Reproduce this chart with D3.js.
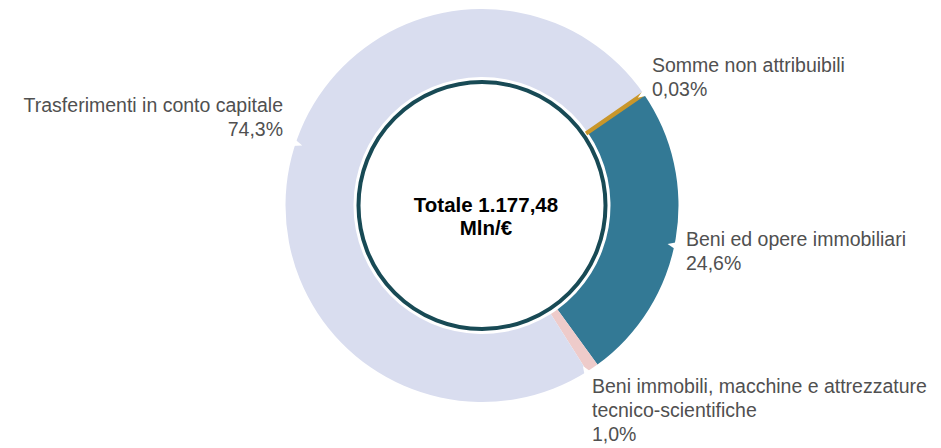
<!DOCTYPE html>
<html>
<head>
<meta charset="utf-8">
<script src="https://d3js.org/d3.v7.min.js"></script>
<style>
  body { margin: 0; background: #fff; }
  text { font-family: "Liberation Sans", Arial, sans-serif; }
</style>
</head>
<body>
<div id="my_dataviz"></div>
<script>

// data
var categories = ["Somme non attribuibili", "Beni ed opere immobiliari",
  "Beni immobili, macchine e attrezzature tecnico-scientifiche", "Trasferimenti in conto capitale"];
var values = [0.03, 24.6, 1.0, 74.3];
var valueLabels = ["0,03%", "24,6%", "1,0%", "74,3%"];
var labelLines = [
  ["Somme non attribuibili"],
  ["Beni ed opere immobiliari"],
  ["Beni immobili, macchine e attrezzature", "tecnico-scientifiche"],
  ["Trasferimenti in conto capitale"]
];
var totalLines = ["Totale 1.177,48", "Mln/€"];

var colors = ["#c9962a", "#337995", "#eecbca", "#d9ddef"];

// layout
var width = 941, height = 448;
var cx = 482, cy = 205.5;
var outerR = 196.5, innerR = 128.5, coreR = 123.5;
var labelPos = [
  { x: 652, y: 72, anchor: "start", nudge: 0 },
  { x: 686, y: 246, anchor: "start", nudge: 2 },
  { x: 592, y: 393, anchor: "start", nudge: 2 },
  { x: 283, y: 112, anchor: "end", nudge: 7 }
];

var svg = d3.select("#my_dataviz")
  .append("svg")
    .attr("width", width)
    .attr("height", height);

var g = svg.append("g")
    .attr("transform", "translate(" + cx + "," + cy + ")");

var pie = d3.pie()
  .sort(null)
  .value(function(d) { return d; })
  .startAngle(55.3 * Math.PI / 180)
  .endAngle(55.3 * Math.PI / 180 + 2 * Math.PI);

var arcs = pie(values);

var arc = d3.arc()
  .innerRadius(innerR)
  .outerRadius(outerR);

// tiny slice drawn last so its stroke stays visible
var order = arcs.slice(1).concat([arcs[0]]);

g.selectAll("path.slice")
  .data(order)
  .enter()
  .append("path")
    .attr("class", "slice")
    .attr("d", arc)
    .attr("fill", function(d) { return colors[d.index]; })
    .attr("stroke", function(d) { return d.index === 0 ? colors[0] : "none"; })
    .attr("stroke-width", function(d) { return d.index === 0 ? 4 : 0; });

// small white pointer notches on the outer edge
g.selectAll("path.notch")
  .data(arcs)
  .enter()
  .append("path")
    .attr("class", "notch")
    .attr("d", function(d, i) {
      var a = (d.startAngle + d.endAngle) / 2 + labelPos[i].nudge * Math.PI / 180;
      var s = Math.sin(a), c = -Math.cos(a);
      var tx = Math.cos(a), ty = Math.sin(a);
      var r0 = outerR + 3, r1 = outerR - 7;
      var p1 = [r0 * s - 4 * tx, r0 * c - 4 * ty];
      var p2 = [r0 * s + 4 * tx, r0 * c + 4 * ty];
      var p3 = [r1 * s, r1 * c];
      return "M" + p1 + "L" + p2 + "L" + p3 + "Z";
    })
    .attr("fill", "#fff");

// center circle
g.append("circle")
  .attr("r", coreR)
  .attr("fill", "#fff")
  .attr("stroke", "#184a55")
  .attr("stroke-width", 4);

g.selectAll("text.total")
  .data(totalLines)
  .enter()
  .append("text")
    .attr("class", "total")
    .attr("x", 4)
    .attr("y", function(d, i) { return 6.5 + i * 23; })
    .attr("text-anchor", "middle")
    .attr("font-size", 20.5)
    .attr("font-weight", "bold")
    .attr("fill", "#000")
    .text(function(d) { return d; });

// labels
var labels = svg.selectAll("g.label")
  .data(categories)
  .enter()
  .append("g")
    .attr("class", "label");

labels.each(function(d, i) {
  var lines = labelLines[i].concat([valueLabels[i]]);
  d3.select(this).selectAll("text")
    .data(lines)
    .enter()
    .append("text")
      .attr("x", labelPos[i].x)
      .attr("y", function(t, j) { return labelPos[i].y + j * 24; })
      .attr("text-anchor", labelPos[i].anchor)
      .attr("font-size", 19.5)
      .attr("fill", "#505050")
      .text(function(t) { return t; });
});

</script>
</body>
</html>
